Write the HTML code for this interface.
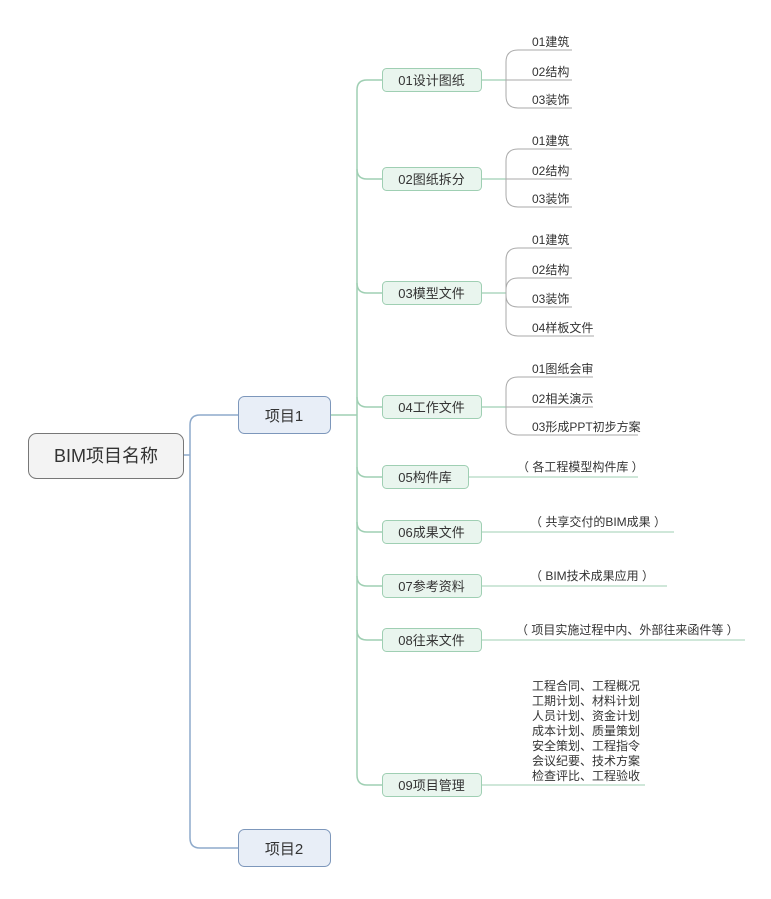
<!DOCTYPE html>
<html><head><meta charset="utf-8"><style>
html,body{margin:0;padding:0;background:#fff;}
svg text{font-family:"Liberation Sans","Noto Sans CJK SC",sans-serif;fill:#333;}
</style></head><body>
<svg id="s" width="771" height="894" viewBox="0 0 771 894" xmlns="http://www.w3.org/2000/svg">
<!-- blue -->
<path d="M184 455 H190 M238 415 H200 Q190 415 190 425 V838 Q190 848 200 848 H238" fill="none" stroke="#8eaacb" stroke-width="1.5"/>
<rect x="28.5" y="433.5" width="155" height="45" rx="8" fill="#f3f3f3" stroke="#777" stroke-width="1"/>
<text x="106" y="462" font-size="18" text-anchor="middle">BIM项目名称</text>
<rect x="238.5" y="396.5" width="92" height="37" rx="6" fill="#e8eef7" stroke="#7d97bb"/>
<text x="284" y="421" font-size="15" text-anchor="middle">项目1</text>
<rect x="238.5" y="829.5" width="92" height="37" rx="6" fill="#e8eef7" stroke="#7d97bb"/>
<text x="284" y="854" font-size="15" text-anchor="middle">项目2</text>
<g id="g"></g>
</svg>
<script>
var g=document.getElementById('g'),h='';
var G='#9fcfb3',L='#aaa';
h+='<path d="M331 415 H357 M382 80 H367 Q357 80 357 90 V775 Q357 785 367 785 H382" fill="none" stroke="'+G+'" stroke-width="1.5"/>';
var nodes=[["01设计图纸",80,99],["02图纸拆分",179,99],["03模型文件",293,99],["04工作文件",407,99],["05构件库",477,86],["06成果文件",532,99],["07参考资料",586,99],["08往来文件",640,99],["09项目管理",785,99]];
nodes.forEach(function(n,i){
 if(i>0&&i<8) h+='<path d="M357 '+(n[1]-10)+' Q357 '+n[1]+' 367 '+n[1]+' H382" fill="none" stroke="'+G+'" stroke-width="1.5"/>';
 h+='<rect x="382.5" y="'+(n[1]-11.5)+'" width="'+n[2]+'" height="23" rx="4" fill="#e9f5ee" stroke="'+G+'"/>';
 h+='<text x="'+(382+n[2]/2)+'" y="'+(n[1]+5)+'" font-size="13" text-anchor="middle">'+n[0]+'</text>';
});
function grp(c,leaves){
 h+='<path d="M481 '+c+' H506" stroke="'+G+'" stroke-width="1.2" fill="none"/>';
 leaves.forEach(function(l){
  var y=l[1],e=l[2];
  if(Math.abs(y-c)<2){h+='<path d="M506 '+y+' H'+e+'" stroke="'+L+'" fill="none"/>';}
  else{var d=y<c?1:-1;h+='<path d="M506 '+c+' V'+(y+d*12)+' Q506 '+y+' 518 '+y+' H'+e+'" stroke="'+L+'" fill="none"/>';}
  h+='<text x="532" y="'+(y-4)+'" font-size="12">'+l[0]+'</text>';
 });
}
grp(80,[["01建筑",50,572],["02结构",80,572],["03装饰",108,572]]);
grp(179,[["01建筑",149,572],["02结构",179,572],["03装饰",207,572]]);
grp(293,[["01建筑",248,572],["02结构",278,572],["03装饰",307,572],["04样板文件",336,594]]);
grp(407,[["01图纸会审",377,593],["02相关演示",407,593],["03形成PPT初步方案",435,638]]);
function one(x0,c,tx,txt,e){h+='<path d="M'+x0+' '+c+' H'+e+'" stroke="'+G+'" fill="none"/>';h+='<text x="'+tx+'" y="'+(c-6)+'" font-size="12">'+txt+'</text>';}
one(468,477,517,"（ 各工程模型构件库 ）",638);
one(481,532,530,"（ 共享交付的BIM成果 ）",674);
one(481,586,530,"（ BIM技术成果应用 ）",667);
one(481,640,516,"（ 项目实施过程中内、外部往来函件等 ）",745);
h+='<path d="M481 785 H645" stroke="'+G+'" fill="none"/>';
["工程合同、工程概况","工期计划、材料计划","人员计划、资金计划","成本计划、质量策划","安全策划、工程指令","会议纪要、技术方案","检查评比、工程验收"].forEach(function(t,i){
 h+='<text x="532" y="'+(690+i*15)+'" font-size="12">'+t+'</text>';});
g.innerHTML=h;
</script>
</body></html>
